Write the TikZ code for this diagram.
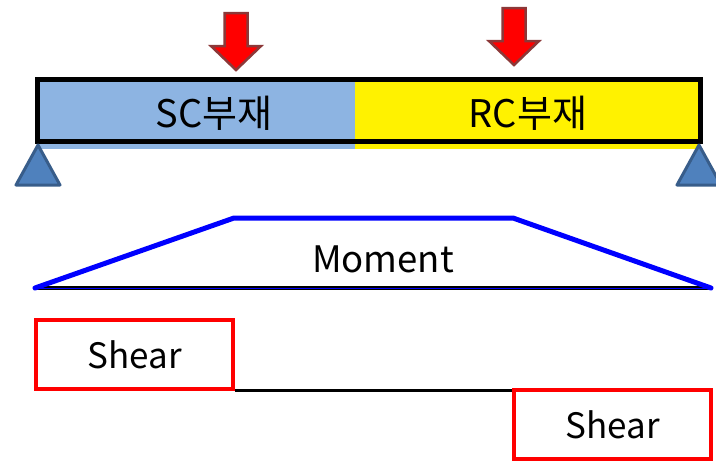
\documentclass[tikz,border=0pt]{standalone}
\usepackage{fontspec}
\setmainfont{Noto Sans CJK KR}
\definecolor{scblue}{RGB}{141,180,226}
\definecolor{supfill}{RGB}{79,129,189}
\definecolor{supline}{RGB}{56,93,138}
\definecolor{arrline}{RGB}{140,56,56}
\begin{document}
\begin{tikzpicture}[x=1pt,y=-1pt,
  loadarrow/.style={fill=red,draw=arrline,line width=2.5pt,line join=miter},
  support/.style={fill=supfill,draw=supline,line width=3pt,line join=round},
  shearbox/.style={draw=red,line width=3.5pt,inner sep=0pt},
  lbl/.style={font=\fontsize{36}{40}\selectfont,inner sep=0pt}]
\useasboundingbox (0,0) rectangle (716,461);
% beam fills
\fill[scblue] (37,79) rectangle (355,149);
\fill[yellow] (355,79) rectangle (698,149);
\node[lbl,font=\fontsize{38}{40}\selectfont] (sc) at (214,113) {SC부재};
\node[lbl,font=\fontsize{38}{40}\selectfont] (rc) at (528,113) {RC부재};
\draw[line width=5pt] (37,79) rectangle (700,141);
% loads
\draw[loadarrow] (224.5,13) -- (247.5,13) -- (247.5,46) -- (261,46) -- (236,70) -- (211,46) -- (224.5,46) -- cycle;
\draw[loadarrow] (502.5,8) -- (525.5,8) -- (525.5,41) -- (539,41) -- (514,65) -- (489,41) -- (502.5,41) -- cycle;
% supports
\coordinate (la) at (38,145);
\coordinate (ra) at (699,145);
\draw[support] (la) -- (60,185) -- (16,185) -- cycle;
\draw[support] (ra) -- (721,185) -- (677,185) -- cycle;
% moment
\coordinate (m0) at (35,288);
\coordinate (m1) at (234,218);
\coordinate (m2) at (513,218);
\coordinate (m3) at (711,288);
\draw[line width=4pt] (m0) -- (m3);
\draw[blue,line width=1pt] (m0) -- (m3);
\draw[blue,line width=5pt,line join=round,line cap=round] (m0) -- (m1) -- (m2) -- (m3);
\node[lbl,font=\fontsize{36.5}{40}\selectfont] (mom) at (383,259) {Moment};
% shear
\node[shearbox,minimum width=197pt,minimum height=69pt] (s1) at (134.5,354.5) {};
\node[shearbox,minimum width=197pt,minimum height=69pt] (s2) at (612.5,424.5) {};
\node[lbl,font=\fontsize{35}{40}\selectfont] at (s1) {Shear};
\node[lbl,font=\fontsize{35}{40}\selectfont] at (s2) {Shear};
\draw[line width=3pt] (s1.south east) -- (s1.south east -| s2.north west);
\end{tikzpicture}
\end{document}
